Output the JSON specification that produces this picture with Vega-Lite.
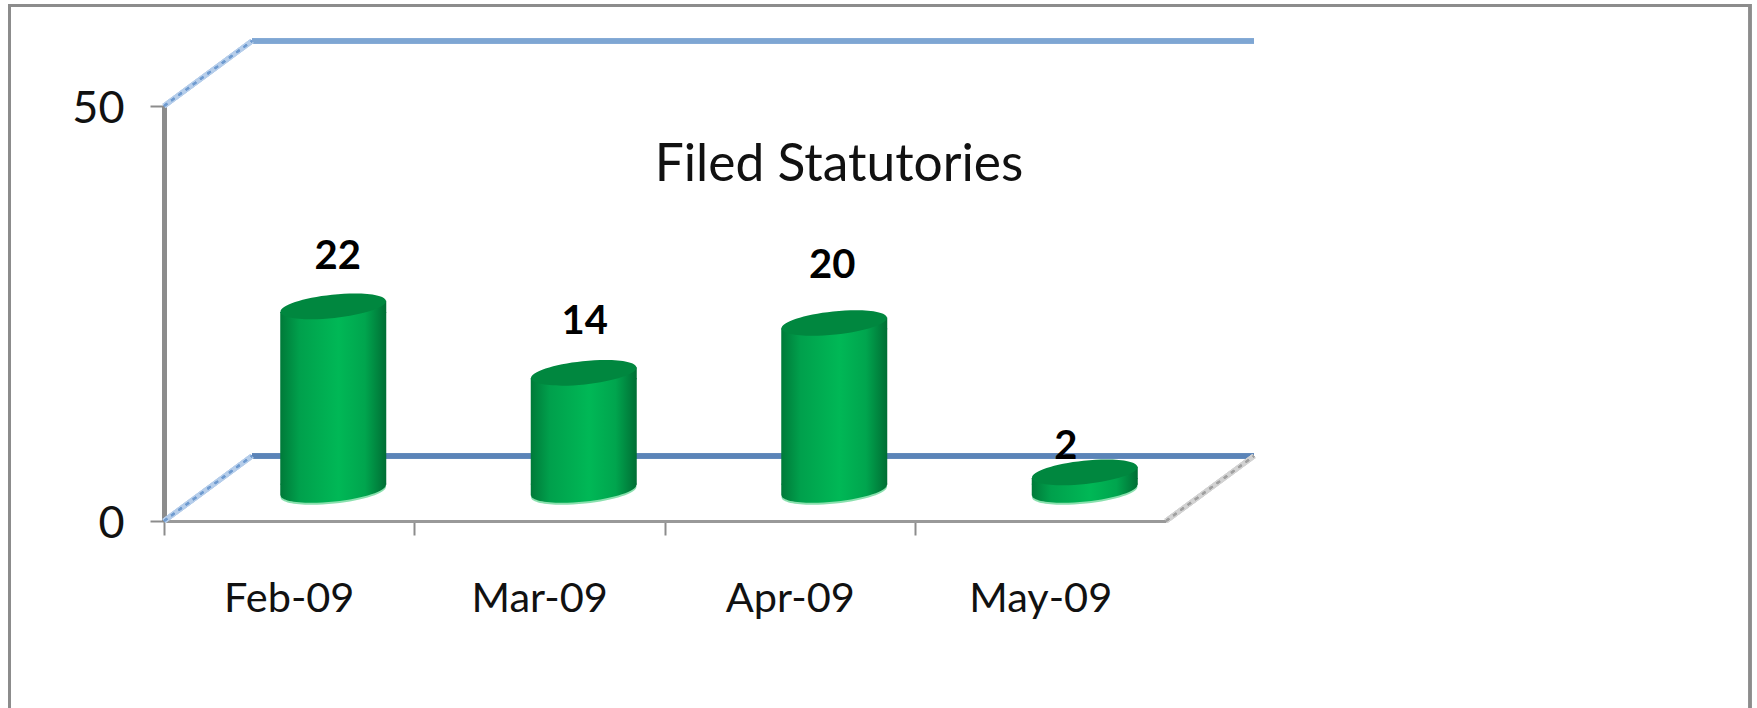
{"$schema":"https://vega.github.io/schema/vega-lite/v6.json","autosize":"none","width":1002,"height":415,"padding":{"left":164,"top":106,"right":591,"bottom":187},"background":"white","view":{"stroke":null},"config":{"font":"Lato"},"title":{"text":"Filed Statutories","anchor":"middle","font":"Lato","fontSize":51.5,"fontWeight":"normal","color":"#111111","dx":174,"dy":187,"offset":0},"data":{"values":[{"month":"Feb-09","filed":22},{"month":"Mar-09","filed":14},{"month":"Apr-09","filed":20},{"month":"May-09","filed":2}]},"encoding":{"x":{"field":"month","type":"nominal","sort":null,"scale":{"paddingInner":0,"paddingOuter":0},"axis":{"title":null,"labelFontSize":41.5,"labelColor":"#111111","labelAngle":0,"labelPadding":43,"grid":false,"bandPosition":0,"tickColor":"#8c8c8c","tickWidth":2,"tickSize":14,"domainColor":"#999999","domainWidth":3}}},"layer":[{"mark":{"type":"rect","fill":null,"stroke":"#8c8c8c","strokeWidth":3,"clip":false},"encoding":{"x":{"value":-154.5},"x2":{"value":1586},"y":{"value":-100.5},"y2":{"value":615}}},{"mark":{"type":"rule","stroke":"#7ea6d3","strokeWidth":5,"yOffset":-65},"encoding":{"x":{"value":88},"x2":{"value":1090},"y":{"datum":50,"type":"quantitative","scale":{"domain":[0,50],"nice":false},"axis":{"title":null,"values":[0,50],"labelFontSize":45,"labelColor":"#111111","labelPadding":26,"labelOffset":2,"grid":false,"tickColor":"#8c8c8c","tickWidth":2,"tickSize":14,"domainColor":"#8c8c8c","domainWidth":5}}}},{"mark":{"type":"rule","stroke":"#5b84b8","strokeWidth":5,"yOffset":-65},"encoding":{"x":{"value":88},"x2":{"value":1090},"y":{"datum":0,"type":"quantitative"}}},{"mark":{"type":"rule","stroke":"#b5cdea","strokeWidth":5,"y2Offset":-65},"encoding":{"x":{"value":0},"x2":{"value":88},"y":{"datum":50,"type":"quantitative"},"y2":{"datum":50}}},{"mark":{"type":"rule","stroke":"#6f9bd0","strokeWidth":2,"strokeDash":[4,5],"y2Offset":-65},"encoding":{"x":{"value":0},"x2":{"value":88},"y":{"datum":50,"type":"quantitative"},"y2":{"datum":50}}},{"mark":{"type":"rule","stroke":"#b5cdea","strokeWidth":5,"y2Offset":-65},"encoding":{"x":{"value":0},"x2":{"value":88},"y":{"datum":0,"type":"quantitative"},"y2":{"datum":0}}},{"mark":{"type":"rule","stroke":"#6f9bd0","strokeWidth":2,"strokeDash":[4,5],"y2Offset":-65},"encoding":{"x":{"value":0},"x2":{"value":88},"y":{"datum":0,"type":"quantitative"},"y2":{"datum":0}}},{"mark":{"type":"rule","stroke":"#d2d2d2","strokeWidth":5,"y2Offset":-65},"encoding":{"x":{"value":1002},"x2":{"value":1090},"y":{"datum":0,"type":"quantitative"},"y2":{"datum":0}}},{"mark":{"type":"rule","stroke":"#a0a0a0","strokeWidth":2,"strokeDash":[4,5],"y2Offset":-65},"encoding":{"x":{"value":1002},"x2":{"value":1090},"y":{"datum":0,"type":"quantitative"},"y2":{"datum":0}}},{"mark":{"type":"point","filled":true,"opacity":1,"shape":"M0.9945,-0.1045C1.0072,0.0163,0.5723,0.1611,0.023,0.2188C-0.5263,0.2765,-0.9818,0.2253,-0.9945,0.1045C-1.0072,-0.0163,-0.5723,-0.1611,-0.023,-0.2188C0.5263,-0.2765,0.9818,-0.2253,0.9945,-0.1045Z","size":11236,"fill":"#8ae0ae","stroke":null,"xOffset":44,"yOffset":-29},"encoding":{"y":{"datum":0,"type":"quantitative"}}},{"mark":{"type":"point","filled":true,"opacity":1,"shape":"M-1,-0.12L1,-0.12L1,-0.1045L0.9945,-0.1045C1.0072,0.0163,0.5723,0.1611,0.023,0.2188C-0.5263,0.2765,-0.9818,0.2253,-0.9945,0.1045L-1,0.1045Z","size":11236,"stroke":null,"xOffset":44,"yOffset":-31,"fill":{"gradient":"linear","x1":0,"x2":1,"y1":0,"y2":0,"stops":[{"offset":0,"color":"#007a39"},{"offset":0.18,"color":"#00a04c"},{"offset":0.55,"color":"#00b856"},{"offset":0.8,"color":"#00a54e"},{"offset":1,"color":"#006e34"}]}},"encoding":{"y":{"datum":0,"type":"quantitative"}}},{"mark":{"type":"bar","size":106,"xOffset":44,"yOffset":-26.5,"y2Offset":-36.5,"fill":{"gradient":"linear","x1":0,"x2":1,"y1":0,"y2":0,"stops":[{"offset":0,"color":"#007a39"},{"offset":0.18,"color":"#00a04c"},{"offset":0.55,"color":"#00b856"},{"offset":0.8,"color":"#00a54e"},{"offset":1,"color":"#006e34"}]}},"encoding":{"y":{"field":"filed","type":"quantitative"},"y2":{"datum":0}}},{"mark":{"type":"point","filled":true,"opacity":1,"shape":"M-1,0.1045L1,-0.1045L1,0.12L-1,0.12Z","size":11236,"stroke":null,"xOffset":44,"yOffset":-32,"fill":{"gradient":"linear","x1":0,"x2":1,"y1":0,"y2":0,"stops":[{"offset":0,"color":"#007a39"},{"offset":0.18,"color":"#00a04c"},{"offset":0.55,"color":"#00b856"},{"offset":0.8,"color":"#00a54e"},{"offset":1,"color":"#006e34"}]}},"encoding":{"y":{"field":"filed","type":"quantitative"}}},{"mark":{"type":"point","filled":true,"opacity":1,"shape":"M0.9945,-0.1045C1.0072,0.0163,0.5723,0.1611,0.023,0.2188C-0.5263,0.2765,-0.9818,0.2253,-0.9945,0.1045C-1.0072,-0.0163,-0.5723,-0.1611,-0.023,-0.2188C0.5263,-0.2765,0.9818,-0.2253,0.9945,-0.1045Z","size":11236,"fill":"#00873f","stroke":null,"xOffset":44,"yOffset":-32},"encoding":{"y":{"field":"filed","type":"quantitative"}}},{"transform":[{"filter":"datum.month==='Feb-09'"}],"mark":{"type":"text","font":"Lato","fontWeight":"bold","fontSize":40,"color":"#000000","xOffset":48.5,"yOffset":-81},"encoding":{"y":{"field":"filed","type":"quantitative"},"text":{"field":"filed","type":"quantitative"}}},{"transform":[{"filter":"datum.month==='Mar-09'"}],"mark":{"type":"text","font":"Lato","fontWeight":"bold","fontSize":40,"color":"#000000","xOffset":45,"yOffset":-83},"encoding":{"y":{"field":"filed","type":"quantitative"},"text":{"field":"filed","type":"quantitative"}}},{"transform":[{"filter":"datum.month==='Apr-09'"}],"mark":{"type":"text","font":"Lato","fontWeight":"bold","fontSize":40,"color":"#000000","xOffset":42,"yOffset":-89},"encoding":{"y":{"field":"filed","type":"quantitative"},"text":{"field":"filed","type":"quantitative"}}},{"transform":[{"filter":"datum.month==='May-09'"}],"mark":{"type":"text","font":"Lato","fontWeight":"bold","fontSize":40,"color":"#000000","xOffset":25,"yOffset":-57},"encoding":{"y":{"field":"filed","type":"quantitative"},"text":{"field":"filed","type":"quantitative"}}}]}
